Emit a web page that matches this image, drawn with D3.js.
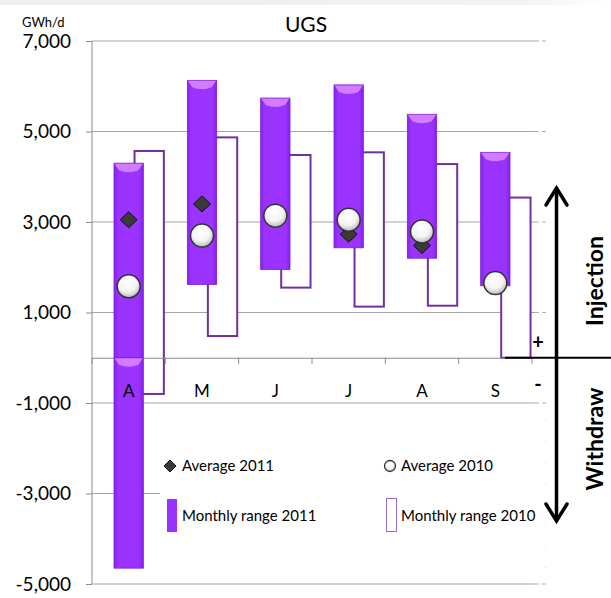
<!DOCTYPE html>
<html><head><meta charset="utf-8">
<script src="https://cdn.jsdelivr.net/npm/d3@7"></script>
<style>
html,body{margin:0;padding:0;background:#fff;}
svg{display:block;font-family:Lato,"Open Sans",sans-serif;}
</style></head>
<body><svg id="c" width="611" height="598"></svg>
<script>
const categories = ["A","M","J","J","A","S"];
const range2011Low  = [-4650, 1620, 1950, 2430, 2200, 1590];
const range2011High = [4300, 6130, 5740, 6030, 5380, 4540];
const range2010Low  = [-800, 480, 1550, 1130, 1150, 0];
const range2010High = [4570, 4870, 4480, 4540, 4280, 3540];
const avg2011 = [3050, 3400, 3100, 2730, 2480, 1640];
const avg2010 = [1580, 2700, 3140, 3050, 2790, 1650];
const yTicks = [7000, 5000, 3000, 1000, -1000, -3000, -5000];

const svg = d3.select("#c");
const defs = svg.append("defs");

const g1 = defs.append("linearGradient").attr("id","barGrad").attr("x1","0").attr("x2","1").attr("y1","0").attr("y2","0");
g1.append("stop").attr("offset","0").attr("stop-color","#8a22f0");
g1.append("stop").attr("offset","0.15").attr("stop-color","#9b33ff");
g1.append("stop").attr("offset","0.85").attr("stop-color","#9b33ff");
g1.append("stop").attr("offset","1").attr("stop-color","#8420e8");
const g2 = defs.append("radialGradient").attr("id","circGrad").attr("cx","0.45").attr("cy","0.35").attr("r","0.65");
g2.append("stop").attr("offset","0").attr("stop-color","#ffffff");
g2.append("stop").attr("offset","0.6").attr("stop-color","#f4f4f4");
g2.append("stop").attr("offset","1").attr("stop-color","#b8b8b8");
const g3 = defs.append("linearGradient").attr("id","topGrad").attr("x1","0").attr("x2","1").attr("y1","0").attr("y2","0");
g3.append("stop").attr("offset","0").attr("stop-color","#eeeeee");
g3.append("stop").attr("offset","0.85").attr("stop-color","#f2f2f2");
g3.append("stop").attr("offset","1").attr("stop-color","#ffffff");
svg.append("rect").attr("x",0).attr("y",0).attr("width",611).attr("height",5).attr("fill","url(#topGrad)");

const y = d3.scaleLinear().domain([-5000, 7000]).range([584, 41]);
const x = d3.scaleBand().domain(d3.range(categories.length)).range([92, 532]).padding(0);
const bw = x.bandwidth();
const cx = i => x(i) + bw / 2;
const diamondPath = (hw, hh) => `M0,${-hh}L${hw},0L0,${hh}L${-hw},0Z`;

// gridlines
const grid = svg.append("g");
yTicks.forEach(t => {
  const xEnd = t === -3000 ? 160 : 535;
  grid.append("line").attr("x1",92).attr("x2",xEnd).attr("y1",y(t)).attr("y2",y(t))
    .attr("stroke","#a6a6a6").attr("stroke-width",1.2);
  if (t !== -3000) {
    grid.append("line").attr("x1",535).attr("x2",546).attr("y1",y(t)).attr("y2",y(t))
      .attr("stroke","#b0b0b0").attr("stroke-width",1.2).attr("stroke-dasharray","4,3");
  }
});

// y axis
const fmt = d3.format(",");
const yAxis = d3.axisLeft(y).tickValues(yTicks).tickSize(6).tickFormat(d => fmt(d).replace("\u2212","-"));
const ya = svg.append("g").attr("transform","translate(92,0)").call(yAxis);
ya.select(".domain").attr("stroke","#8c8c8c").attr("d","M0,41V584");
ya.selectAll(".tick line").attr("stroke","#8c8c8c");
ya.selectAll(".tick text").attr("x",-21).attr("font-size",19).attr("fill","#000")
  .attr("font-family","Lato, sans-serif");

// hollow 2010 bars
const hx0 = i => cx(i) + bw * 0.08;
const hw = bw * 0.4;
svg.append("g").selectAll("rect").data(categories).join("rect")
  .attr("x",(d,i)=>hx0(i)).attr("width",hw)
  .attr("y",(d,i)=>y(range2010High[i])).attr("height",(d,i)=>y(range2010Low[i])-y(range2010High[i]))
  .attr("fill","#fff").attr("stroke","#7030a0").attr("stroke-width",2);

// x axis at zero
const xAxis = d3.axisBottom(x).tickSize(0).tickFormat(i => categories[i]);
const xa = svg.append("g").attr("transform",`translate(0,${y(0)})`).call(xAxis);
xa.select(".domain").attr("stroke","#8c8c8c").attr("stroke-width",1.2);
xa.selectAll(".tick text").remove();
svg.append("g").selectAll("line").data(d3.range(categories.length+1)).join("line")
  .attr("x1",i=>92+i*bw).attr("x2",i=>92+i*bw).attr("y1",y(0)).attr("y2",y(0)+6)
  .attr("stroke","#8c8c8c");

// filled 2011 bars (split at zero when crossing)
const fw = bw * 0.4;
const fx0 = i => cx(i) - fw / 2;
const segs = [];
categories.forEach((d,i) => {
  const lo = range2011Low[i], hi = range2011High[i];
  if (lo < 0 && hi > 0) { segs.push({i, lo:0, hi}); segs.push({i, lo, hi:0}); }
  else segs.push({i, lo, hi});
});
const fb = svg.append("g");
segs.forEach(s => {
  const x0 = fx0(s.i), yt = y(s.hi), yb = y(s.lo);
  fb.append("rect").attr("x",x0).attr("y",yt).attr("width",fw).attr("height",yb-yt)
    .attr("fill","url(#barGrad)").attr("stroke","#7a1fd6").attr("stroke-width",0.8);
  fb.append("path")
    .attr("d",`M${x0+0.5},${yt+0.5}H${x0+fw-0.5}L${x0+fw-5},${yt+7}Q${x0+fw/2},${yt+11} ${x0+5},${yt+7}Z`)
    .attr("fill","#d27cff");
});

// x labels
svg.append("g").selectAll("text").data(categories).join("text")
  .attr("x",(d,i)=>cx(i)).attr("y",397).attr("text-anchor","middle")
  .attr("font-size",17).attr("fill","#000").text(d=>d);

// markers
svg.append("g").selectAll("path").data(avg2011).join("path")
  .attr("d",diamondPath(8.5,8)).attr("transform",(d,i)=>`translate(${cx(i)},${y(d)})`)
  .attr("fill","#3a3a3a").attr("stroke","#111").attr("stroke-width",1);
svg.append("g").selectAll("circle").data(avg2010).join("circle")
  .attr("cx",(d,i)=>cx(i)).attr("cy",d=>y(d)).attr("r",11.5)
  .attr("fill","url(#circGrad)").attr("stroke","#333").attr("stroke-width",1.5);

// legend
const lg = svg.append("g");
lg.append("rect").attr("x",160).attr("y",412).attr("width",386).attr("height",162).attr("fill","#fff");
lg.append("line").attr("x1",545.5).attr("x2",545.5).attr("y1",420).attr("y2",570)
  .attr("stroke","#dddddd").attr("stroke-dasharray","1,20");
lg.append("path").attr("d",diamondPath(6,6))
  .attr("transform","translate(170,466)").attr("fill","#3a3a3a").attr("stroke","#111");
lg.append("text").attr("x",182).attr("y",471).attr("font-size",15).text("Average 2011");
lg.append("rect").attr("x",167).attr("y",499).attr("width",10).attr("height",33).attr("fill","#9b33ff");
lg.append("text").attr("x",182).attr("y",521).attr("font-size",15).text("Monthly range 2011");
lg.append("circle").attr("cx",390).attr("cy",466).attr("r",5.5).attr("fill","url(#circGrad)").attr("stroke","#333").attr("stroke-width",1.3);
lg.append("text").attr("x",401).attr("y",471).attr("font-size",15).text("Average 2010");
lg.append("rect").attr("x",386.5).attr("y",498.5).attr("width",10).attr("height",33).attr("fill","#fff").attr("stroke","#9a6cc8").attr("stroke-width",1);
lg.append("text").attr("x",401).attr("y",521).attr("font-size",15).text("Monthly range 2010");

// titles
svg.append("text").attr("x",306).attr("y",32).attr("text-anchor","middle").attr("font-size",21).text("UGS");
svg.append("text").attr("x",22).attr("y",27).attr("font-size",13).text("GWh/d");

// annotations right
const an = svg.append("g");
an.append("line").attr("x1",505).attr("x2",611).attr("y1",y(0)).attr("y2",y(0)).attr("stroke","#000").attr("stroke-width",2);
an.append("line").attr("x1",556.5).attr("x2",556.5).attr("y1",188).attr("y2",521).attr("stroke","#000").attr("stroke-width",3.5);
an.append("path").attr("d","M546,205L556.5,188L567,205").attr("fill","none").attr("stroke","#000").attr("stroke-width",3.5).attr("stroke-linecap","round");
an.append("path").attr("d","M546,504L556.5,521L567,504").attr("fill","none").attr("stroke","#000").attr("stroke-width",3.5).attr("stroke-linecap","round");
an.append("text").attr("x",538).attr("y",349).attr("text-anchor","middle").attr("font-size",20).attr("font-weight","bold").text("+");
an.append("text").attr("x",538).attr("y",391).attr("text-anchor","middle").attr("font-size",20).attr("font-weight","bold").text("-");
an.append("text").attr("transform","translate(603,281) rotate(-90)").attr("text-anchor","middle")
  .attr("font-size",23).attr("font-weight","bold").text("Injection");
an.append("text").attr("transform","translate(603,439) rotate(-90)").attr("text-anchor","middle")
  .attr("font-size",23).attr("font-weight","bold").text("Withdraw");
</script></body></html>
